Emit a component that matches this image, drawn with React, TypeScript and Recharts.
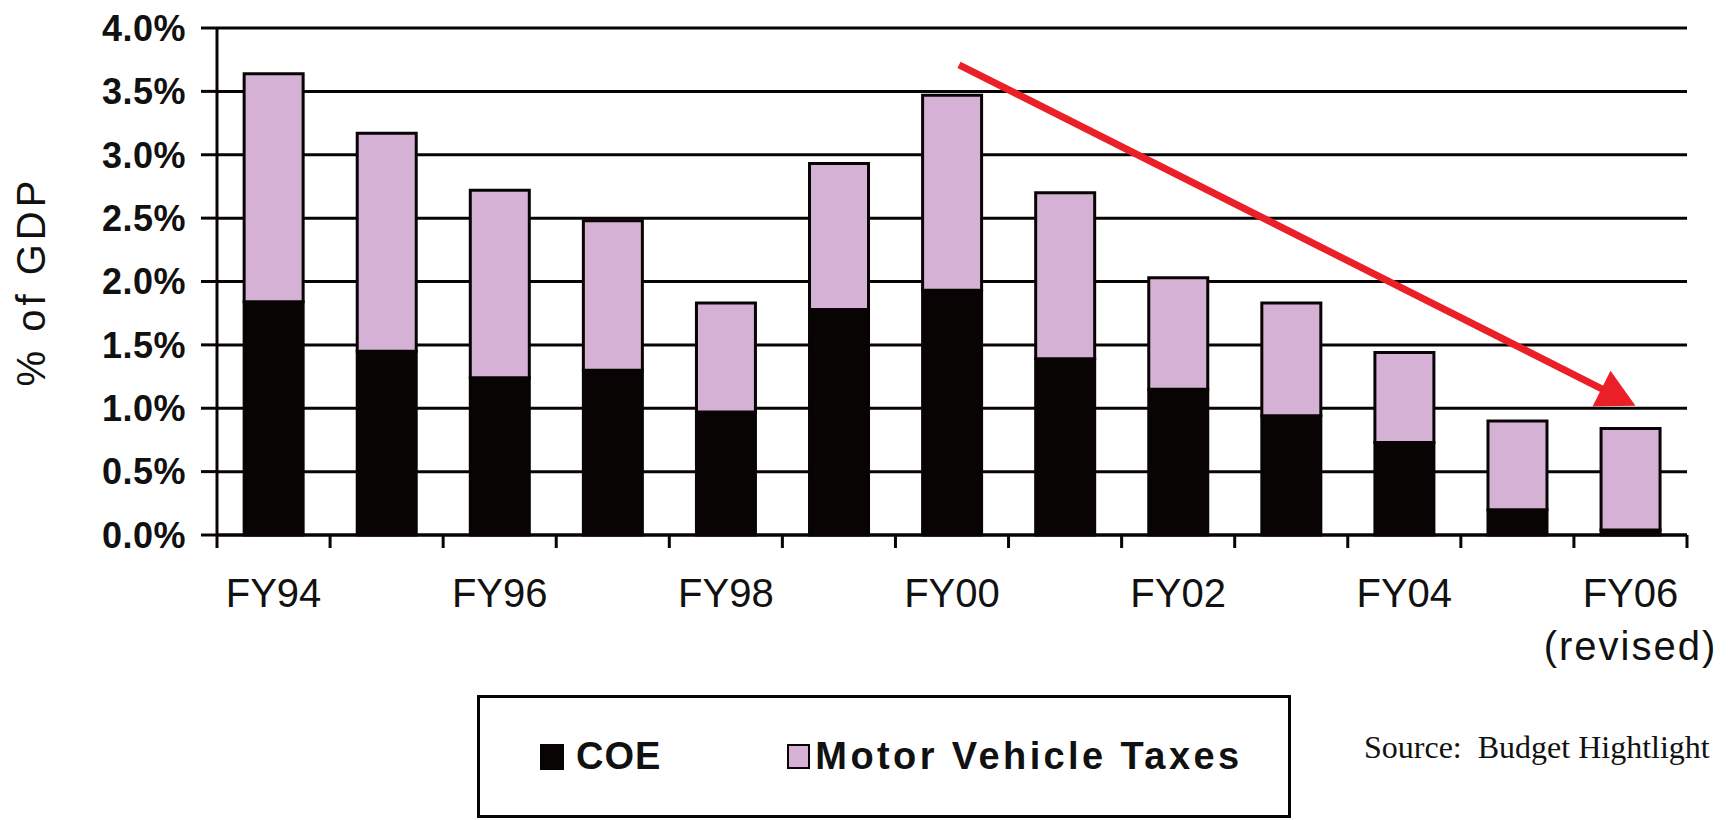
import { BarChart, Bar, XAxis, YAxis, CartesianGrid, ReferenceLine, Legend } from 'recharts'

const categories = ['FY94', 'FY95', 'FY96', 'FY97', 'FY98', 'FY99', 'FY00', 'FY01', 'FY02', 'FY03', 'FY04', 'FY05', 'FY06']
const coe = [1.84, 1.45, 1.24, 1.3, 0.97, 1.78, 1.93, 1.39, 1.15, 0.94, 0.73, 0.2, 0.04]
const motorVehicleTaxes = [1.8, 1.72, 1.48, 1.18, 0.86, 1.15, 1.54, 1.31, 0.88, 0.89, 0.71, 0.7, 0.8]
const yTicks = [0, 0.5, 1, 1.5, 2, 2.5, 3, 3.5, 4]
const tickLabels = [['FY94'], [], ['FY96'], [], ['FY98'], [], ['FY00'], [], ['FY02'], [], ['FY04'], [], ['FY06', '(revised)']]
const trendFrom = { x: 'FY00', y: 3.71 }
const trendTo = { x: 'FY06', y: 1.02 }

const W = 1729
const H = 820
const MARGIN = { top: 28, right: 42, left: 0, bottom: 185 }
const Y_AXIS_W = 217
const BAND = (W - MARGIN.right - MARGIN.left - Y_AXIS_W) / categories.length

const BLACK = '#080404'
const PURPLE = '#D5B2D5'
const RED = '#EA1F27'
const SANS = '"Liberation Sans", Arial, sans-serif'

const data = categories.map((name, i) => ({ name, coe: coe[i], mvt: motorVehicleTaxes[i] }))

function CategoryTick({ x, y, index }: any) {
  const lines = tickLabels[index] ?? []
  const half = BAND / 2
  return (
    <g>
      <line x1={x - half} y1={y} x2={x - half} y2={y + 13} stroke={BLACK} strokeWidth={3} />
      {index === categories.length - 1 && (
        <line x1={x + half} y1={y} x2={x + half} y2={y + 13} stroke={BLACK} strokeWidth={3} />
      )}
      {lines.map((t, i) => (
        <text
          key={t}
          x={x}
          y={y + 72 + i * 53}
          textAnchor="middle"
          fill="#111"
          fontFamily={SANS}
          fontSize={40}
          letterSpacing={i === 1 ? 2 : 0}
        >
          {t}
        </text>
      ))}
    </g>
  )
}

// arrow is nudged a few px right of the category centres, like the original drawing
function TrendArrow({ x1, y1, x2, y2 }: any) {
  const sx = x1 + 7
  const ex = x2 + 5
  const len = Math.hypot(ex - sx, y2 - y1)
  const ux = (ex - sx) / len
  const uy = (y2 - y1) / len
  const head = 38
  const half = 20
  const bx = ex - ux * head
  const by = y2 - uy * head
  return (
    <g>
      <line x1={sx} y1={y1} x2={bx + ux * 2} y2={by + uy * 2} stroke={RED} strokeWidth={7} />
      <polygon
        points={`${ex},${y2} ${bx - uy * half},${by + ux * half} ${bx + uy * half},${by - ux * half}`}
        fill={RED}
      />
    </g>
  )
}

function LegendBox() {
  const item = { display: 'flex', alignItems: 'center', fontSize: 38, fontWeight: 'bold' as const, color: '#111' }
  return (
    <div
      style={{
        width: '100%',
        height: '100%',
        boxSizing: 'border-box',
        border: `3px solid ${BLACK}`,
        display: 'flex',
        alignItems: 'center',
        paddingLeft: 60,
        fontFamily: SANS,
        background: '#fff',
      }}
    >
      <div style={item}>
        <span style={{ width: 24, height: 26, background: BLACK, marginRight: 12 }} />
        <span style={{ letterSpacing: 1 }}>COE</span>
      </div>
      <div style={{ ...item, marginLeft: 126 }}>
        <span style={{ width: 19, height: 21, background: PURPLE, border: `2px solid ${BLACK}`, marginRight: 5 }} />
        <span style={{ letterSpacing: 3.4 }}>Motor Vehicle Taxes</span>
      </div>
    </div>
  )
}

export default function App() {
  return (
    <div style={{ position: 'absolute', left: 0, top: 0, width: W, height: H, background: '#fff' }}>
      <BarChart width={W} height={H} data={data} margin={MARGIN} barCategoryGap="24%">
        <CartesianGrid vertical={false} stroke={BLACK} strokeWidth={3} strokeOpacity={1} />
        <XAxis
          dataKey="name"
          height={100}
          interval={0}
          tickSize={0}
          tickMargin={0}
          tickLine={false}
          axisLine={{ stroke: BLACK, strokeWidth: 3 }}
          tick={<CategoryTick />}
        />
        <YAxis
          width={Y_AXIS_W}
          domain={[0, 4]}
          ticks={yTicks}
          interval={0}
          tickFormatter={(v: number) => `${v.toFixed(1)}%`}
          tickSize={16}
          tickMargin={15}
          axisLine={{ stroke: BLACK, strokeWidth: 3 }}
          tickLine={{ stroke: BLACK, strokeWidth: 3 }}
          tick={{ fill: '#111', fontSize: 36, fontWeight: 'bold', fontFamily: SANS, letterSpacing: 0.5 }}
          label={({ viewBox }: any) => (
            <text
              x={viewBox.x + 31}
              y={viewBox.y + viewBox.height / 2}
              transform={`rotate(-90 ${viewBox.x + 31} ${viewBox.y + viewBox.height / 2})`}
              textAnchor="middle"
              dominantBaseline="central"
              fill="#111"
              fontFamily={SANS}
              fontSize={40}
              letterSpacing={4}
            >
              % of GDP
            </text>
          )}
        />
        <Bar dataKey="coe" name="COE" stackId="a" fill={BLACK} stroke={BLACK} strokeWidth={3} isAnimationActive={false} />
        <Bar dataKey="mvt" name="Motor Vehicle Taxes" stackId="a" fill={PURPLE} stroke={BLACK} strokeWidth={3} isAnimationActive={false} />
        <ReferenceLine segment={[trendFrom, trendTo]} shape={TrendArrow} />
        <Legend
          layout="horizontal"
          verticalAlign="middle"
          align="center"
          content={<LegendBox />}
          wrapperStyle={{ left: 477, top: 695, width: 814, height: 123 }}
        />
      </BarChart>
      <div
        style={{
          position: 'absolute',
          left: 1364,
          top: 731,
          fontFamily: '"Liberation Serif", "Times New Roman", serif',
          fontSize: 32,
          lineHeight: '32px',
          color: '#111',
          whiteSpace: 'pre',
        }}
      >
        {'Source:  Budget Hightlight'}
      </div>
    </div>
  )
}
